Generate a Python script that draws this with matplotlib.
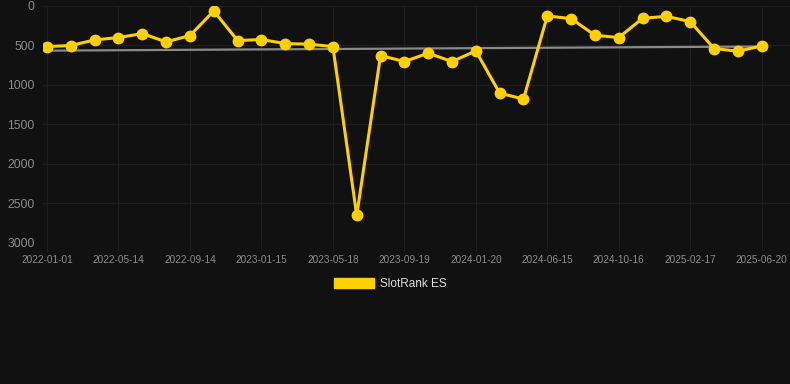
import matplotlib
matplotlib.use("Agg")
import matplotlib.pyplot as plt
from matplotlib.patches import Patch
import numpy as np

plt.rcParams['font.family'] = ['Liberation Sans', 'DejaVu Sans']

# data
tick_labels = ["2022-01-01", "2022-05-14", "2022-09-14", "2023-01-15", "2023-05-18",
               "2023-09-19", "2024-01-20", "2024-06-15", "2024-10-16", "2025-02-17",
               "2025-06-20"]
ranks = [514, 501, 430, 400, 350, 455, 375, 63, 438, 425, 476, 484, 514, 2654, 628,
         704, 598, 704, 569, 1104, 1180, 126, 160, 371, 400, 156, 131, 198, 539, 573, 506]
series_name = "SlotRank ES"
y_ticks = [0, 500, 1000, 1500, 2000, 2500, 3000]

BG = "#111111"
GRID = "#1e1e1e"
YELLOW = "#FFD000"
TXT = "#8c8c8c"

W, H = 790, 384
fig = plt.figure(figsize=(W / 100, H / 100), dpi=100, facecolor=BG)
left, right = 43 / W, 1.0
bottom, top = 1 - 242.7 / H, 1 - 6 / H
ax = fig.add_axes([left, bottom, right - left, top - bottom], facecolor=BG)

x = np.arange(len(ranks))
# trend line (linear fit)
coef = np.polyfit(x, ranks, 1)
ax.plot(x, np.polyval(coef, x), color="#8a8a8a", lw=1.6, zorder=2)

ax.plot(x, ranks, color=YELLOW, lw=2.2, marker="o", markersize=7.5,
        markerfacecolor=YELLOW, markeredgecolor=YELLOW, zorder=3)

ax.set_ylim(3000, 0)
px_per = (761.7 - 47) / (len(ranks) - 1)
ax.set_xlim(-4 / px_per, len(ranks) - 1 + 28.3 / px_per)

ax.set_yticks(y_ticks)
ax.set_yticklabels([str(v) for v in y_ticks])
tick_pos = x[::3]
ax.set_xticks(tick_pos)
ax.set_xticklabels(tick_labels)

ax.grid(True, color=GRID, lw=0.9)
ax.set_axisbelow(True)
for s in ax.spines.values():
    s.set_visible(False)
ax.tick_params(axis="y", length=0, pad=6, labelsize=8.7, labelcolor=TXT)
ax.tick_params(axis="x", length=6, color=GRID, pad=3, labelsize=7.2, labelcolor=TXT)

handle = Patch(facecolor=YELLOW, edgecolor=YELLOW)
fig.legend([handle], [series_name], loc="center", bbox_to_anchor=(390 / W, 1 - 284 / H),
           frameon=False, handlelength=3.4, handleheight=1.0, handletextpad=0.5,
           prop={"size": 8.5}, labelcolor="#dddddd")

fig.savefig("out.png", dpi=100, facecolor=BG)
